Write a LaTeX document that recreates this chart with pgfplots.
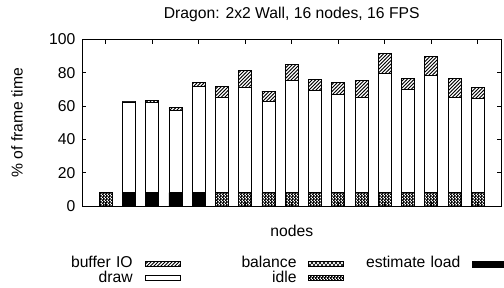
\documentclass[border=0pt]{standalone}
\usepackage{fontspec}
\setmainfont{Liberation Sans}
\usepackage{pgfplots}
\pgfplotsset{compat=1.18}
\usetikzlibrary{patterns}

\pgfdeclarepatternformonly{hatchIO}{\pgfqpoint{-1pt}{-1pt}}{\pgfqpoint{4.5pt}{4.5pt}}{\pgfqpoint{3.5pt}{3.5pt}}{%
  \pgfsetlinewidth{0.8pt}%
  \pgfpathmoveto{\pgfqpoint{-0.2pt}{-0.2pt}}%
  \pgfpathlineto{\pgfqpoint{3.7pt}{3.7pt}}%
  \pgfusepath{stroke}}
\pgfdeclarepatternformonly{checker}{\pgfqpoint{0pt}{0pt}}{\pgfqpoint{3pt}{3pt}}{\pgfqpoint{3pt}{3pt}}{%
  \pgfpathrectangle{\pgfqpoint{0pt}{0pt}}{\pgfqpoint{2pt}{2pt}}%
  \pgfpathrectangle{\pgfqpoint{1.5pt}{1.5pt}}{\pgfqpoint{2pt}{2pt}}%
  \pgfusepath{fill}}
\pgfdeclarepatternformonly{xhatch}{\pgfqpoint{-1pt}{-1pt}}{\pgfqpoint{5pt}{5pt}}{\pgfqpoint{4pt}{4pt}}{%
  \pgfsetlinewidth{0.6pt}%
  \pgfpathmoveto{\pgfqpoint{-0.2pt}{-0.2pt}}\pgfpathlineto{\pgfqpoint{4.2pt}{4.2pt}}%
  \pgfpathmoveto{\pgfqpoint{-0.2pt}{4.2pt}}\pgfpathlineto{\pgfqpoint{4.2pt}{-0.2pt}}%
  \pgfusepath{stroke}}

\pgfplotstableread{
x est idle bal draw io
0  0 8 0 0    0
1  8 0 0 54.5 0.5
2  8 0 0 54.0 1.5
3  8 0 0 49.5 1.5
4  8 0 0 64.0 2.0
5  0 8 0 57.0 7.0
6  0 8 0 63.5 10.0
7  0 8 0 54.7 6.3
8  0 8 0 67.3 9.7
9  0 8 0 61.3 6.6
10 0 8 0 59.1 7.2
11 0 8 0 57.1 10.2
12 0 8 0 71.8 11.8
13 0 8 0 62.1 6.3
14 0 8 0 70.2 11.6
15 0 8 0 57.1 11.5
16 0 8 0 56.7 6.4
}\data

\pgfplotsset{
  boxlegend/.style={legend image code/.code={\draw[##1] (0pt,-2.5pt) rectangle (35pt,2.5pt);}},
}

\begin{document}
\begin{tikzpicture}[font=\fontsize{15.7pt}{18pt}\selectfont]
\begin{axis}[
  scale only axis,
  width=418.5pt, height=166.5pt,
  xmin=-1, xmax=17, ymin=0, ymax=100,
  ybar stacked, bar width=13pt,
  xtick={0,2,...,16}, xticklabels={},
  ytick={0,20,...,100},
  tick align=inside, tick pos=both,
  major tick length=4pt,
  axis line style={line width=0.9pt},
  every tick/.style={black, line width=0.9pt},
  /pgf/number format/assume math mode=true,
  yticklabel style={anchor=east, inner sep=0pt, xshift=-7pt},
  title={Dragon: 2x2 Wall, 16 nodes, 16 FPS},
  every axis title/.style={at={(rel axis cs:0.5,1)}, anchor=base, yshift=21.3pt, inner sep=0pt},
  xlabel={nodes},
  every axis x label/.style={at={(rel axis cs:0.5,0)}, anchor=base, yshift=-30.7pt, inner sep=0pt},
  every axis y label/.style={at={(rel axis cs:0,0.5)}, xshift=-59.8pt, rotate=90, anchor=base, inner sep=0pt},
  ylabel={\% of frame time},
  legend columns=3,
  legend plot pos=right,
  legend style={at={(rel axis cs:0,0)}, anchor=north west, xshift=-45.8pt, yshift=-50.5pt,
    draw=none, fill=none, inner sep=0pt, outer sep=0pt, row sep=0pt,
    nodes={text width=95pt, align=right, inner xsep=1pt, inner ysep=0pt, text height=11pt, text depth=3.5pt},
    /tikz/every odd column/.append style={column sep=11pt},
    /tikz/every even column/.append style={column sep=20pt}},
]
\coordinate (bl) at (rel axis cs:0,0);
\addplot[forget plot, fill=black, draw=black, line width=0.8pt] table[x=x, y=est] {\data};
\addplot[forget plot, pattern=checker, draw=black, line width=0.8pt] table[x=x, y=idle] {\data};
\addplot[forget plot, pattern=xhatch, draw=black, line width=0.8pt] table[x=x, y=bal] {\data};
\addplot[forget plot, fill=white, draw=black, line width=0.8pt] table[x=x, y=draw] {\data};
\addplot[forget plot, pattern=hatchIO, draw=black, line width=0.8pt] table[x=x, y=io] {\data};

\addlegendimage{boxlegend, pattern=hatchIO, draw=black, line width=0.8pt}
\addlegendentry{buffer IO}
\addlegendimage{boxlegend, pattern=xhatch, draw=black, line width=0.8pt}
\addlegendentry{balance}
\addlegendimage{legend image code/.code={\draw[fill=black, draw=black] (0pt,-3pt) rectangle (35pt,3pt);}}
\addlegendentry{estimate load}
\addlegendimage{boxlegend, fill=white, draw=black, line width=0.8pt}
\addlegendentry{draw}
\addlegendimage{boxlegend, pattern=checker, draw=black, line width=0.8pt}
\addlegendentry{idle}
\end{axis}
\pgfresetboundingbox
\path (bl) ++(-82.5pt,-81pt) rectangle ++(504pt,287pt);
\end{tikzpicture}
\end{document}
